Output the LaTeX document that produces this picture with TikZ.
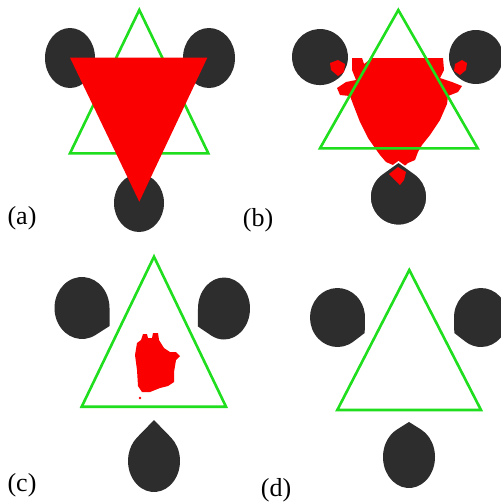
\documentclass[tikz,border=0pt]{standalone}
\usepackage{fontspec}
\setmainfont{Liberation Serif}
\definecolor{blobc}{RGB}{45,45,45}
\definecolor{grn}{RGB}{30,222,30}
\definecolor{rd}{RGB}{250,0,0}
\tikzset{
  blob/.style={fill=blobc},
  tri/.style={draw=grn,line width=2.6pt,line join=miter},
  redfill/.style={fill=rd},
  lbl/.style={inner sep=0pt,font=\fontsize{26}{30}\selectfont}
}
% teardrop: cx cy rx ry rot d style
\newcommand\tear[7]{%
  \pgfmathsetmacro\tearA{acos(1/#6)}%
  \begin{scope}[shift={(#1,#2)},xscale=#3,yscale=#4,rotate=#5]
    \path[blob,#7] (#6,0) -- (\tearA:1) arc[start angle=\tearA, end angle=360-\tearA, radius=1] -- cycle;
  \end{scope}}
\begin{document}
\begin{tikzpicture}[x=1pt,y=-1pt]
\useasboundingbox[fill=white] (0,0) rectangle (501,504);
% ---------- (a) ----------
\fill[blob] (70,58) ellipse[x radius=25,y radius=30];
\fill[blob] (209,58) ellipse[x radius=26,y radius=30];
\fill[blob] (139,203) ellipse[x radius=25,y radius=29];
\draw[tri] (139.3,10) -- (208.3,153.3) -- (70,153.3) -- cycle;
\fill[redfill] (70,57.7) -- (207.3,57.7) -- (139.3,201.7) -- cycle;
\node[lbl] (la) at (22,218) {(a)};
% ---------- (b) ----------
\fill[redfill] (352,58) -- (362,58) -- (364,64) -- (372,58) -- (427,58) -- (432,58) -- (443,58) -- (444,70) -- (440,78) -- (452,82) -- (462,86) -- (458,92) -- (448,96) -- (447,104) -- (440,120) -- (430,135) -- (422,145) -- (418,152) -- (415,160) -- (408,163) -- (400,170) -- (393,165) -- (386,162) -- (380,155) -- (375,148) -- (368,138) -- (360,122) -- (353,104) -- (350,96) -- (340,95) -- (337,88) -- (346,82) -- (356,80) -- (352,70) -- cycle;
\fill[blob] (346.6,65.7) arc[start angle=18, end angle=-302, radius=28] .. controls (342,76) .. (346.6,65.7) -- cycle;
\fill[blob] (450.3,65.3) arc[start angle=162, end angle=482, radius=27] .. controls (455,75) .. (450.3,65.3) -- cycle;
\tear{398.5}{197}{28.5}{28.5}{90}{1.23}{draw=white,line width=1.5pt}
\fill[redfill] (330,63) -- (338,60) -- (345,64) -- (344,72) -- (338,76) -- (331,70) -- cycle;
\fill[redfill] (455,64) -- (462,60) -- (467,63) -- (466,70) -- (460,75) -- (454,71) -- cycle;
\fill[redfill] (398,167) -- (406,172) -- (404,180) -- (400,185) -- (395,180) -- (389,174) -- cycle;
\draw[tri] (398.3,10) -- (477.7,148.3) -- (320,148.3) -- cycle;
\node[lbl] (lb) at (258,220) {(b)};
% ---------- (c) ----------
\tear{82}{308}{27.5}{31}{-30}{1.16}{}
\tear{224}{308.5}{26}{31}{-150}{1.16}{}
\tear{154}{461}{26}{31}{90}{1.32}{}
\draw[tri] (154,256.7) -- (226,406.7) -- (81.7,406.7) -- cycle;
\fill[redfill] (137,343) -- (141,340) -- (143,334) -- (147,334) -- (148,338) -- (152,338) -- (153,333) -- (158,333) -- (159,340) -- (164,348) -- (170,352) -- (176,352) -- (180,356) -- (176,360) -- (174,372) -- (174,382) -- (168,386) -- (160,388) -- (150,392) -- (142,392) -- (138,386) -- (137,370) -- (135,355) -- cycle;
\fill[redfill] (140,398) circle[radius=1.3];
\node[lbl] (lc) at (22,485) {(c)};
% ---------- (d) ----------
\tear{337.5}{317.5}{27.5}{29.5}{-28}{1.12}{}
\tear{481}{317.5}{27}{29.5}{-152}{1.12}{}
\tear{409}{457}{26}{31}{90}{1.13}{}
\draw[tri] (409.3,270) -- (481,410) -- (337.3,410) -- cycle;
\node[lbl] (ld) at (276,490) {(d)};
\end{tikzpicture}
\end{document}
